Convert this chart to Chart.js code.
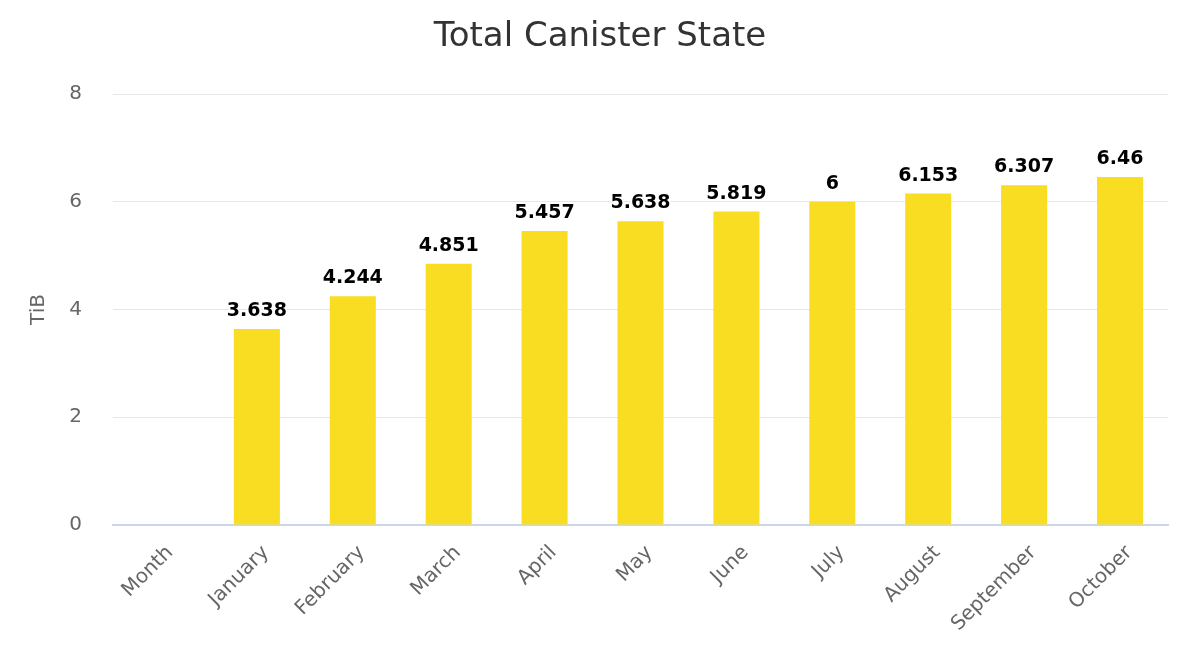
<!DOCTYPE html>
<html>
<head>
<meta charset="utf-8">
<script src="https://cdn.jsdelivr.net/npm/chart.js@4"></script>
<style>
  html, body { margin: 0; padding: 0; background: #fff; }
  #wrap { width: 1200px; height: 670px; }
</style>
</head>
<body>
<div id="wrap"><canvas id="c" width="1200" height="670"></canvas></div>
<script>
const months = ["Month", "January", "February", "March", "April", "May", "June", "July", "August", "September", "October"];
const tib = [null, 3.638, 4.244, 4.851, 5.457, 5.638, 5.819, 6, 6.153, 6.307, 6.46];
const yTicks = [0, 2, 4, 6, 8];

const FONT = "'DejaVu Sans', Verdana, sans-serif";

// title + value labels drawn on top
const extras = {
  id: "extras",
  afterDatasetsDraw(chart) {
    const ctx = chart.ctx;
    const meta = chart.getDatasetMeta(0);
    ctx.save();
    ctx.font = "bold 19px " + FONT;
    ctx.textAlign = "center";
    ctx.textBaseline = "alphabetic";
    ctx.lineJoin = "round";
    meta.data.forEach((bar, i) => {
      if (tib[i] == null) return;
      const txt = String(tib[i]);
      ctx.lineWidth = 3;
      ctx.strokeStyle = "#fff";
      ctx.strokeText(txt, bar.x, bar.y - 13);
      ctx.fillStyle = "#000";
      ctx.fillText(txt, bar.x, bar.y - 13);
    });
    ctx.font = "34px " + FONT;
    ctx.fillStyle = "#333";
    ctx.textBaseline = "middle";
    ctx.fillText("Total Canister State", 600, 37);
    ctx.restore();
  }
};

new Chart(document.getElementById("c"), {
  type: "bar",
  data: {
    labels: months,
    datasets: [{
      label: "TiB",
      data: tib,
      backgroundColor: "#f8dd22",
      barPercentage: 0.48,
      categoryPercentage: 1
    }]
  },
  options: {
    responsive: false,
    animation: false,
    layout: { padding: { top: 94, right: 32, left: 27, bottom: 0 } },
    plugins: {
      legend: { display: false },
      tooltip: { enabled: false }
    },
    scales: {
      x: {
        grid: { display: false, drawTicks: false },
        border: { color: "#ccd6eb", width: 2 },
        ticks: {
          color: "#666",
          font: { family: FONT, size: 20 },
          maxRotation: 45,
          minRotation: 45,
          autoSkip: false,
          labelOffset: 9,
          padding: 16
        },
        afterFit(s) { s.height = 145; }
      },
      y: {
        min: 0,
        max: 8,
        afterBuildTicks(s) { s.ticks = yTicks.map(v => ({ value: v })); },
        grid: {
          color: (c) => (c.tick && c.tick.value === 0 ? "rgba(0,0,0,0)" : "#e6e6e6"),
          drawTicks: false
        },
        border: { display: false },
        ticks: {
          color: "#666",
          font: { family: FONT, size: 20 },
          padding: 31
        },
        title: {
          display: true,
          text: "TiB",
          color: "#666",
          font: { family: FONT, size: 20 },
          padding: 0
        },
        afterFit(s) { s.width = 86; }
      }
    }
  },
  plugins: [extras]
});
</script>
</body>
</html>
